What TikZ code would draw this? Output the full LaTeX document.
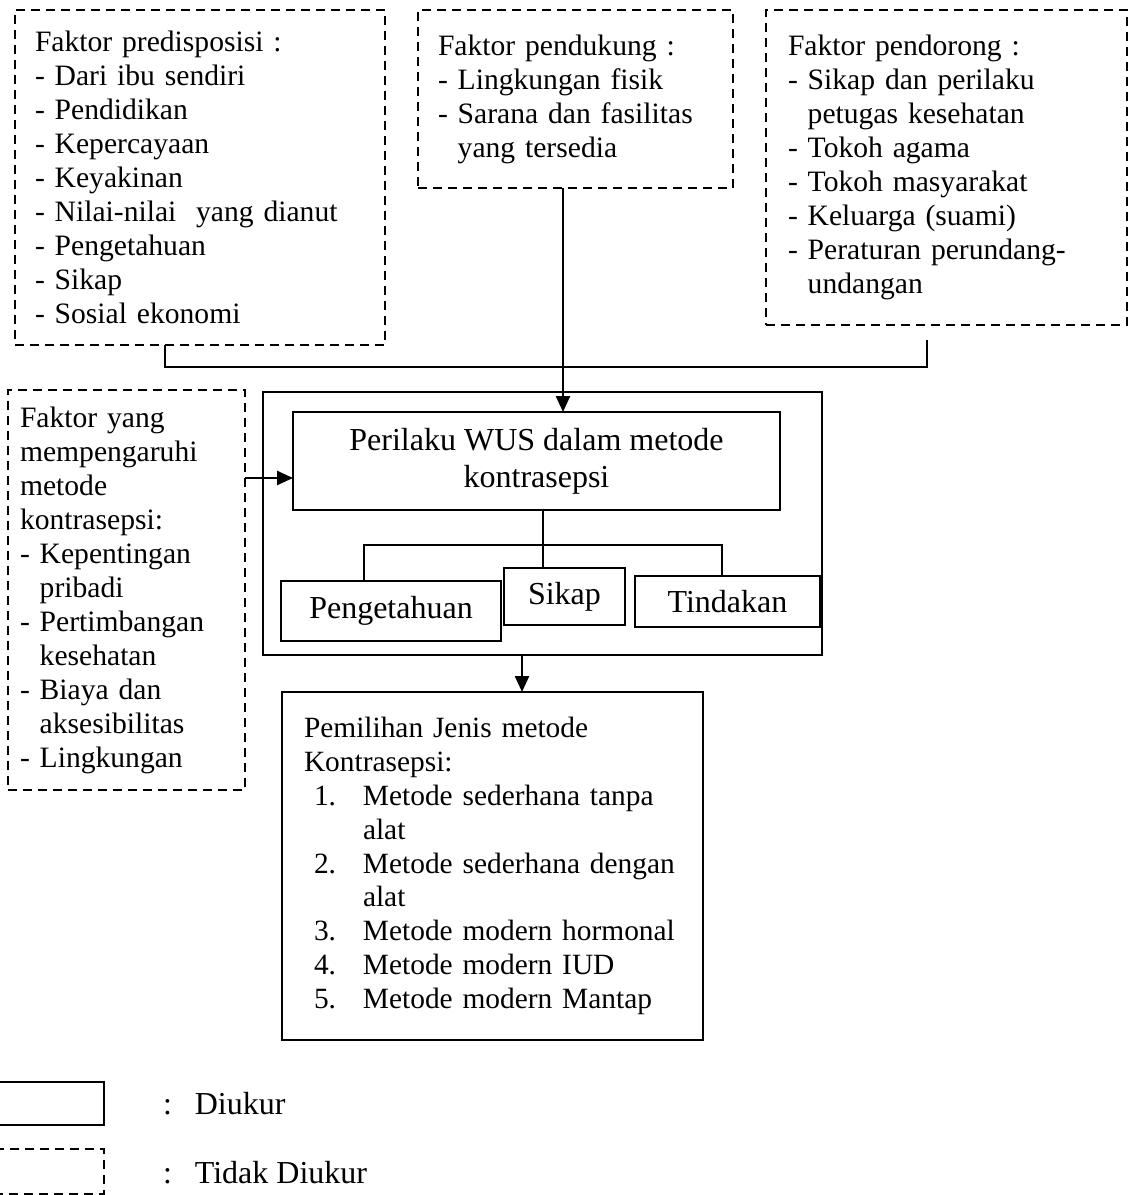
\documentclass[tikz,border=0pt]{standalone}
\usepackage{fontspec}
\setmainfont{Liberation Serif}
\usepackage{tikz}
\usetikzlibrary{arrows.meta, positioning}

\newcommand{\numit}[1]{\hspace*{5pt}\makebox[24.5pt][l]{#1}}
\newcommand{\numcont}{\hspace*{29.5pt}}
\newcommand{\hang}{\hphantom{- }}

\begin{document}
\begin{tikzpicture}[
  x=0.5pt, y=-0.5pt,
  every node/.style={inner sep=0pt, outer sep=0pt},
  dbox/.style={draw, dash pattern=on 4.5pt off 3pt, line width=1.2pt, align=left,
               anchor=north west, font=\fontsize{14.8}{17}\selectfont},
  sbox/.style={draw, line width=1.2pt, anchor=north west},
  lbl/.style={font=\fontsize{16}{18.5}\selectfont, align=center},
  arr/.style={-{Triangle[length=8pt, width=7pt]}, line width=1.2pt},
  conn/.style={line width=1.2pt}
]
\useasboundingbox (0,0) rectangle (1129,1195);

% faktor yang tidak diukur
\node[dbox, minimum width=185pt, minimum height=167.5pt, text width=165pt, inner xsep=10pt] (pred) at (15,10)
  {Faktor predisposisi :\\- Dari ibu sendiri\\- Pendidikan\\- Kepercayaan\\- Keyakinan\\
   - Nilai-nilai~ yang dianut\\- Pengetahuan\\- Sikap\\- Sosial ekonomi};
\node[dbox, minimum width=157.5pt, minimum height=89pt, text width=137.5pt, inner xsep=10pt] (pend) at (418,10)
  {Faktor pendukung :\\- Lingkungan fisik\\- Sarana dan fasilitas\\\hang yang tersedia};
\node[dbox, minimum width=180.5pt, minimum height=157.5pt, text width=158.5pt, inner xsep=11pt] (dorong) at (766,10)
  {Faktor pendorong :\\- Sikap dan perilaku\\\hang petugas kesehatan\\- Tokoh agama\\- Tokoh masyarakat\\
   - Keluarga (suami)\\- Peraturan perundang-\\\hang undangan};
\node[dbox, minimum width=118.5pt, minimum height=200pt, text width=106.5pt, inner xsep=6pt] (pengaruh) at (8,390)
  {Faktor yang\\mempengaruhi\\metode\\kontrasepsi:\\- Kepentingan\\\hang pribadi\\- Pertimbangan\\
   \hang kesehatan\\- Biaya dan\\\hang aksesibilitas\\- Lingkungan};

% perilaku WUS
\node[sbox, minimum width=279.5pt, minimum height=131.5pt] (wus) at (263,392) {};
\node[sbox, lbl, minimum width=243.5pt, minimum height=49pt] (perilaku) at (293,412)
  {Perilaku WUS dalam metode\\kontrasepsi};
\node[sbox, lbl, minimum width=110pt, minimum height=30pt] (peng) at (281,581) {Pengetahuan};
\node[sbox, lbl, minimum width=60.5pt, minimum height=28.5pt] (sikap) at (504,568) {Sikap};
\node[sbox, lbl, minimum width=92.5pt, minimum height=25.5pt] (tind) at (635,576) {Tindakan};

\node[sbox, align=left, font=\fontsize{14.7}{16.9}\selectfont, minimum width=210.5pt, minimum height=174pt,
      text width=188.5pt, inner xsep=11pt] (pilih) at (282,692)
  {Pemilihan Jenis metode\\Kontrasepsi:\\\numit{1.}Metode sederhana tanpa\\\numcont alat\\
   \numit{2.}Metode sederhana dengan\\\numcont alat\\\numit{3.}Metode modern hormonal\\
   \numit{4.}Metode modern IUD\\\numit{5.}Metode modern Mantap};

% keterangan
\node[sbox, minimum width=55pt, minimum height=21.5pt] (ukur) at (-6,1082) {};
\node[dbox, minimum width=55pt, minimum height=22.5pt] (tukur) at (-6,1149) {};
\node[lbl, anchor=west] (ukurtxt) at (163,1104) {:\hspace*{11.5pt}Diukur};
\node[lbl, anchor=west] (tukurtxt) at (163,1173) {:\hspace*{11.5pt}Tidak Diukur};

% garis
\coordinate (jl) at (165,367);
\coordinate (jr) at (927,340);
\draw[conn] (pred.south -| jl) |- (jr |- jl) -- (jr);
\coordinate (ax) at (563,0);
\draw[arr] (pend.south -| ax) -- (perilaku.north -| ax);
\coordinate (ay) at (0,478);
\draw[arr] (pengaruh.east |- ay) -- (perilaku.west |- ay);
\coordinate (sl) at (364,545);
\coordinate (sm) at (543,545);
\coordinate (sr) at (722,545);
\draw[conn] (perilaku.south -| sm) -- (sikap.north -| sm);
\draw[conn] (peng.north -| sl) |- (sr) -- (tind.north -| sr);
\coordinate (bx) at (522,0);
\draw[arr] (wus.south -| bx) -- (pilih.north -| bx);
\end{tikzpicture}
\end{document}
